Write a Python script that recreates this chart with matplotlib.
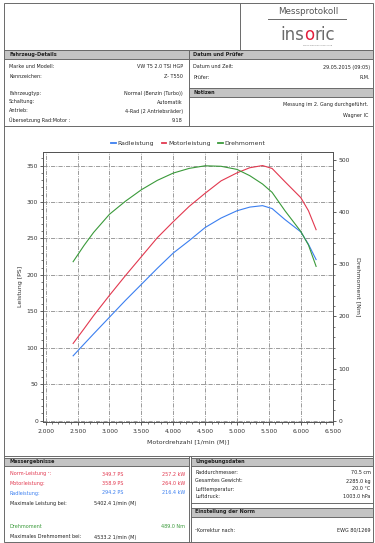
import matplotlib
matplotlib.use("Agg")
import matplotlib.pyplot as plt
from matplotlib.patches import Rectangle
from matplotlib.ticker import MultipleLocator, FuncFormatter

plt.rcParams["font.family"] = ["DejaVu Sans"]

drehzahl = [2430, 2600, 2750, 3000, 3250, 3500, 3750, 4000, 4250, 4500,
            4750, 5000, 5200, 5400, 5550, 5750, 6000, 6120, 6240]
radleistung = [89, 105, 119, 142, 165, 187, 209, 230, 247, 265,
               278, 288, 293, 295, 291, 276, 259, 242, 221]
motorleistung = [106, 126, 144, 172, 199, 225, 251, 273, 294, 312,
                 329, 340, 347, 350, 346, 328, 306, 288, 262]
drehmoment = [305, 336, 361, 396, 421, 443, 461, 475, 484, 489,
              488, 482, 470, 454, 438, 403, 363, 337, 296]

fahrzeug_labels = ["Marke und Modell:", "Kennzeichen:", "Fahrzeugtyp:",
                   "Schaltung:", "Antrieb:", "Übersetzung Rad:Motor :"]
fahrzeug_werte = ["VW T5 2.0 TSI HGP", "Z- T550", "Normal (Benzin (Turbo))",
                  "Automatik", "4-Rad (2 Antriebsräder)", "9.18"]
pruefer_labels = ["Datum und Zeit:", "Prüfer:"]
pruefer_werte = ["29.05.2015 (09:05)", "R.M."]
notizen = ["Messung im 2. Gang durchgeführt.", "Wagner IC"]

umgebung_labels = ["Raddurchmesser:", "Gesamtes Gewicht:", "Lufttemperatur:", "Luftdruck:"]
umgebung_werte = ["70.5 cm", "2285.0 kg", "20.0 °C", "1003.0 hPa"]

ROT = "#e2384f"
BLAU = "#3b7ff0"
GRUEN = "#3a9a3a"
GRAU = "#c4c4c4"
RAHMEN = "#6a6a6a"

fig = plt.figure(figsize=(3.75, 5.43), dpi=100)

# Hintergrund-Achse in Pixelkoordinaten fuer das Formular
bg = fig.add_axes([0, 0, 1, 1])
bg.set_xlim(0, 375)
bg.set_ylim(543, 0)
bg.axis("off")


def box(x0, y0, x1, y1, fill="none"):
    bg.add_patch(Rectangle((x0, y0), x1 - x0, y1 - y0, facecolor=fill,
                           edgecolor=RAHMEN, lw=0.7))


def hline(y, x0, x1):
    bg.plot([x0, x1], [y, y], color=RAHMEN, lw=0.7)


def vline(x, y0, y1):
    bg.plot([x, x], [y0, y1], color=RAHMEN, lw=0.7)


def txt(x, y, s, ha="left", color="#222222", size=3.5, bold=False):
    bg.text(x, y, s, ha=ha, va="center", color=color, fontsize=size,
            fontweight="bold" if bold else "normal")


# Rahmen
box(4, 3, 373, 542)
hline(50, 4, 373)
vline(240, 3, 50)

# Logo
txt(308, 12, "Messprotokoll", ha="center", color="#555555", size=6.3)
hline(19, 268, 346)
logo = [("ins", "#6b6b6b"), ("o", "#e41e3c"), ("ric", "#6b6b6b")]
logo_txt = [bg.text(0, 35, s, color=c, fontsize=12, va="center") for s, c in logo]
fig.canvas.draw()
r = fig.canvas.get_renderer()
inv = bg.transData.inverted()
breiten = []
for t in logo_txt:
    bb = t.get_window_extent(r)
    breiten.append(inv.transform((bb.x1, 0))[0] - inv.transform((bb.x0, 0))[0])
xpos = 308 - sum(breiten) / 2
for t, w in zip(logo_txt, breiten):
    t.set_x(xpos)
    xpos += w
txt(318, 45.5, "swiss precision measuring", ha="center", color="#888888", size=1.6)

# Fahrzeug-Details / Datum und Pruefer
box(4, 50, 189, 59, fill=GRAU)
box(189, 50, 373, 59, fill=GRAU)
txt(9, 54.5, "Fahrzeug-Details", bold=True, size=3.6)
txt(193, 54.5, "Datum und Prüfer", bold=True, size=3.6)
vline(189, 50, 125.5)
for lab, wert, y in zip(fahrzeug_labels, fahrzeug_werte, [67, 76, 93, 102, 111, 120]):
    txt(9, y, lab)
    txt(183, y, wert, ha="right")
for lab, wert, y in zip(pruefer_labels, pruefer_werte, [67, 77.5]):
    txt(193, y, lab)
    txt(370, y, wert, ha="right")
box(189, 88, 373, 97, fill=GRAU)
txt(193, 92.5, "Notizen", bold=True, size=3.6)
for s, y in zip(notizen, [104.5, 115]):
    txt(368, y, s, ha="right")
hline(125.5, 4, 373)

# Untere Bereiche
hline(455.5, 4, 373)
box(4, 457.5, 189, 466, fill=GRAU)
box(191, 457.5, 373, 466, fill=GRAU)
vline(189, 455.5, 542)
vline(191, 455.5, 542)
txt(10, 462, "Messergebnisse", bold=True, size=3.6)
txt(195, 462, "Umgebungsdaten", bold=True, size=3.6)

txt(10, 474, "Norm-Leistung ¹:", color=ROT)
txt(123, 474, "349.7 PS", ha="right", color=ROT)
txt(185, 474, "257.2 kW", ha="right", color=ROT)
txt(10, 483.5, "Motorleistung:", color=ROT)
txt(123, 483.5, "358.9 PS", ha="right", color=ROT)
txt(185, 483.5, "264.0 kW", ha="right", color=ROT)
txt(10, 493, "Radleistung:", color=BLAU)
txt(123, 493, "294.2 PS", ha="right", color=BLAU)
txt(185, 493, "216.4 kW", ha="right", color=BLAU)
txt(10, 503, "Maximale Leistung bei:")
txt(136, 503, "5402.4 1/min (M)", ha="right")
txt(10, 526, "Drehmoment", color=GRUEN)
txt(185, 526, "489.0 Nm", ha="right", color=GRUEN)
txt(10, 537, "Maximales Drehmoment bei:")
txt(136, 537, "4533.2 1/min (M)", ha="right")

for lab, wert, y in zip(umgebung_labels, umgebung_werte, [473, 481, 489, 497]):
    txt(195, y, lab)
    txt(370.5, y, wert, ha="right")
hline(503, 191, 373)
box(191, 507.5, 373, 516.5, fill=GRAU)
txt(195, 512, "Einstellung der Norm", bold=True, size=3.6)
txt(195, 530, "¹Korrektur nach:")
txt(370.5, 530, "EWG 80/1269", ha="right")

# Diagramm
ax = fig.add_axes([43.3 / 375, 1 - 421.7 / 543, 289.7 / 375, 270 / 543])
ax2 = ax.twinx()

l1, = ax.plot(drehzahl, radleistung, color=BLAU, lw=0.8, label="Radleistung")
l2, = ax.plot(drehzahl, motorleistung, color=ROT, lw=0.8, label="Motorleistung")
l3, = ax2.plot(drehzahl, drehmoment, color=GRUEN, lw=0.8, label="Drehmoment")

ax.set_xlim(1962, 6505)
ax.set_ylim(-1.4, 369)
ax2.set_ylim(-2, 516)

ax.xaxis.set_major_locator(MultipleLocator(500))
ax.xaxis.set_minor_locator(MultipleLocator(100))
ax.xaxis.set_major_formatter(FuncFormatter(lambda v, p: f"{v / 1000:.3f}"))
ax.yaxis.set_major_locator(MultipleLocator(50))
ax.yaxis.set_minor_locator(MultipleLocator(10))
ax2.yaxis.set_major_locator(MultipleLocator(100))
ax2.yaxis.set_minor_locator(MultipleLocator(20))

ax.grid(True, which="major", color="#8c8c8c", lw=0.6,
        linestyle=(0, (5, 1.5, 1, 1.5)))

for a in (ax, ax2):
    a.tick_params(which="major", direction="out", length=2.4, width=0.6,
                  labelsize=4.3, labelcolor="#333333", color="#444444", pad=1.5)
    a.tick_params(which="minor", direction="out", length=1.4, width=0.5,
                  color="#444444")
    for sp in a.spines.values():
        sp.set_color("#555555")
        sp.set_linewidth(0.7)
ax.tick_params(axis="x", which="major", pad=2.6)

ax.set_xlabel("Motordrehzahl [1/min (M)]", fontsize=4.5, color="#333333")
ax.set_ylabel("Leistung [PS]", fontsize=4.5, color="#333333")
ax2.set_ylabel("Drehmoment [Nm]", fontsize=4.5, color="#333333", rotation=270)
ax.xaxis.set_label_coords(0.5, -0.066)
ax.yaxis.set_label_coords(-0.071, 0.5)
ax2.yaxis.set_label_coords(1.094, 0.5)

leg = ax2.legend(handles=[l1, l2, l3], loc="center", bbox_to_anchor=(0.5, 1.031),
                 ncol=3, frameon=False, fontsize=4.4, handlelength=0.8,
                 handletextpad=0.25, columnspacing=1.3, labelcolor="#333333")
for lh in leg.get_lines():
    lh.set_linewidth(1.3)

fig.savefig("out.png", dpi=100)
